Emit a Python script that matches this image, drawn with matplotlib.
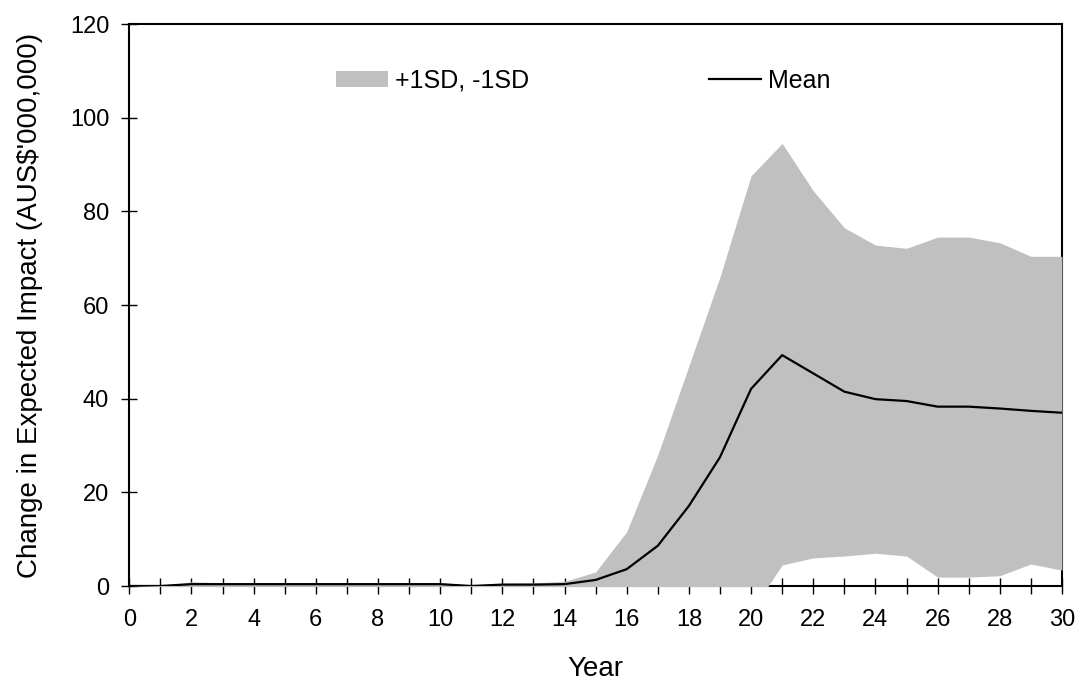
import matplotlib
matplotlib.use('Agg')
import matplotlib.pyplot as plt
import numpy as np

years = list(range(0, 31))
mean = [0.0, 0.0, 0.4, 0.4, 0.4, 0.4, 0.4, 0.4, 0.4, 0.4, 0.4,
        0.0, 0.3, 0.3, 0.4, 1.3, 3.6, 8.6, 17.1, 27.5, 42.1,
        49.3, 45.4, 41.5, 39.9, 39.5, 38.3, 38.3, 37.9, 37.4, 37.0]
upper = [0.0, 0.1, 0.9, 0.7, 0.7, 0.7, 0.7, 0.7, 0.7, 0.7, 0.7,
         0.2, 0.6, 0.7, 1.0, 3.0, 11.6, 28.0, 47.0, 66.0, 87.6,
         94.5, 84.4, 76.5, 72.8, 72.1, 74.5, 74.5, 73.3, 70.4, 70.4]
lower = [0.0, -0.1, -0.1, -0.1, -0.1, -0.1, -0.1, -0.1, -0.1, -0.1, -0.1,
         -0.2, -0.1, -0.1, -0.2, -0.8, -4.0, -11.0, -13.0, -11.0, -5.5,
         4.5, 6.0, 6.4, 7.0, 6.4, 1.9, 1.9, 2.2, 4.7, 3.4]

plt.rcParams['font.family'] = ['Liberation Sans', 'DejaVu Sans']
plt.rcParams['font.size'] = 17

fig = plt.figure(figsize=(10.8, 6.8), dpi=100)
ax = fig.add_axes([0.1197, 0.1382, 0.8636, 0.8265])

ax.fill_between(years, lower, upper, color='#c0c0c0', linewidth=0,
                zorder=3, label='+1SD, -1SD')
ax.plot(years, mean, color='black', linewidth=1.6, zorder=4, label='Mean')

ax.set_xlim(0, 30)
ax.set_ylim(0, 120)
ax.set_xticks(range(0, 31, 2))
ax.set_xticks(range(0, 31), minor=True)
ax.set_yticks(range(0, 121, 20))
ax.tick_params(axis='both', which='both', direction='inout', length=11,
               width=1, color='black', labelsize=17)
ax.tick_params(axis='x', which='both', pad=11)
ax.tick_params(axis='y', pad=9)
for s in ax.spines.values():
    s.set_linewidth(1.5)

ax.set_xlabel('Year', fontsize=20, labelpad=18)
ax.set_ylabel("Change in Expected Impact (AUS$'000,000)", fontsize=20,
              labelpad=19)

ax.legend(loc='center left', bbox_to_anchor=(0.2216, 0.8986), ncol=2,
          frameon=False, borderpad=0, borderaxespad=0, fontsize=18,
          handlelength=2.08, handleheight=0.64, handletextpad=0.28,
          columnspacing=7.2)

fig.savefig('out.png', dpi=100)
